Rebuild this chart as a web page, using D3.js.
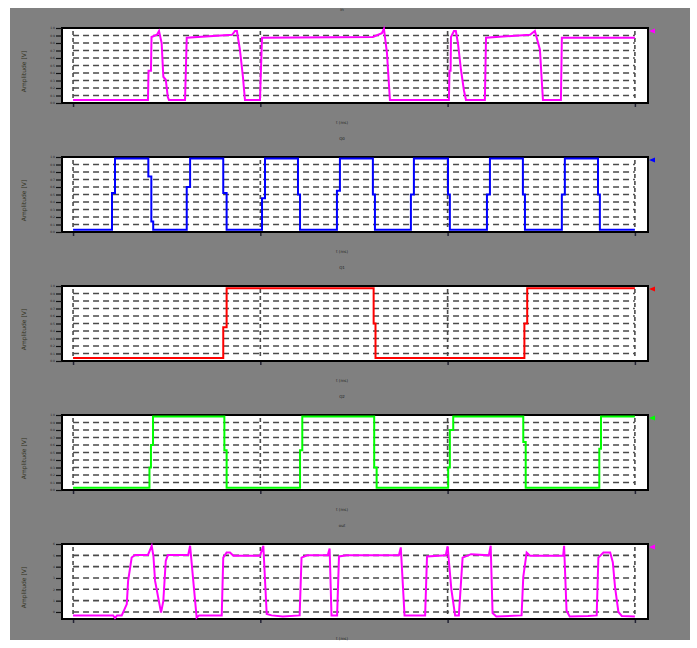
<!DOCTYPE html>
<html lang="en">
<head>
  <meta charset="UTF-8" />
  <title>Logic Traces</title>
  <script src="https://d3js.org/d3.v7.min.js"></script>
  <style>
    body {
      margin: 0;
      background: #fff;
    }
    svg {
      display: block;
    }
    .frame {
      fill: #fff;
      stroke: #000;
      stroke-width: 2;
    }
    .grid line {
      stroke: #4a4a4a;
      stroke-width: 1.6;
      stroke-dasharray: 6,4;
    }
    .trace {
      fill: none;
      stroke-width: 2;
    }
    .tiny {
      font-family: "DejaVu Sans", sans-serif;
      fill: #222;
    }
  </style>
</head>
<body>
<svg width="697" height="648"></svg>

<script>
// x: time (ms), y: level.
const timeTicks = [0, 1, 2, 3];
const levelTicks = [0, 0.1, 0.2, 0.3, 0.4, 0.5, 0.6, 0.7, 0.8, 0.9, 1];
const voltTicks = [0, 1, 2, 3, 4, 5, 6];

const titles = ["in", "Q0", "Q1", "Q2", "out"];
const xLabel = "t (ms)";
const yLabel = "Amplitude [V]";
const colors = ["#ff00ff", "#0000ff", "#ff0000", "#00ff00", "#ff00ff"];

const trace1 = [
  [0, 0.04], [0.40, 0.04], [0.403, 0.43], [0.416, 0.43], [0.419, 0.88], [0.448, 0.91],
  [0.459, 0.96], [0.473, 0.80], [0.482, 0.35], [0.495, 0.31], [0.506, 0.08], [0.512, 0.04],
  [0.598, 0.04], [0.607, 0.87], [0.849, 0.91], [0.865, 0.96], [0.875, 0.96], [0.891, 0.71],
  [0.907, 0.35], [0.918, 0.04], [0.998, 0.04], [1.009, 0.87], [1.601, 0.88], [1.649, 0.93],
  [1.66, 0.99], [1.676, 0.67], [1.692, 0.04], [2.007, 0.04], [2.01, 0.43], [2.016, 0.43],
  [2.018, 0.88], [2.034, 0.96], [2.044, 0.96], [2.055, 0.80], [2.071, 0.45], [2.087, 0.17],
  [2.098, 0.04], [2.199, 0.04], [2.205, 0.87], [2.44, 0.91], [2.466, 0.96], [2.493, 0.71],
  [2.509, 0.04], [2.605, 0.04], [2.61, 0.87], [3.0, 0.87]
];

const trace2 = [
  [0, 0.03], [0.208, 0.03], [0.208, 0.52], [0.224, 0.52], [0.224, 0.98],
  [0.402, 0.98], [0.402, 0.74], [0.418, 0.74], [0.418, 0.14], [0.428, 0.14], [0.428, 0.03],
  [0.607, 0.03], [0.607, 0.6], [0.625, 0.6], [0.625, 0.98],
  [0.802, 0.98], [0.802, 0.52], [0.82, 0.52], [0.82, 0.03],
  [1.009, 0.03], [1.009, 0.45], [1.025, 0.45], [1.025, 0.98],
  [1.201, 0.98], [1.201, 0.5], [1.212, 0.5], [1.212, 0.03],
  [1.409, 0.03], [1.409, 0.55], [1.425, 0.55], [1.425, 0.98],
  [1.601, 0.98], [1.601, 0.5], [1.612, 0.5], [1.612, 0.03],
  [1.804, 0.03], [1.804, 0.5], [1.82, 0.5], [1.82, 0.98],
  [2.002, 0.98], [2.002, 0.5], [2.012, 0.5], [2.012, 0.03],
  [2.21, 0.03], [2.21, 0.5], [2.226, 0.5], [2.226, 0.98],
  [2.402, 0.98], [2.402, 0.5], [2.413, 0.5], [2.413, 0.03],
  [2.61, 0.03], [2.61, 0.5], [2.626, 0.5], [2.626, 0.98],
  [2.803, 0.98], [2.803, 0.5], [2.813, 0.5], [2.813, 0.03],
  [3.0, 0.03]
];

const trace3 = [
  [0, 0.04], [0.802, 0.04], [0.802, 0.45], [0.82, 0.45], [0.82, 0.97],
  [1.605, 0.97], [1.605, 0.5], [1.615, 0.5], [1.615, 0.04],
  [2.41, 0.04], [2.41, 0.5], [2.425, 0.5], [2.425, 0.97], [3.0, 0.97]
];

const trace4 = [
  [0, 0.03], [0.408, 0.03], [0.408, 0.3], [0.416, 0.3], [0.416, 0.6], [0.427, 0.6], [0.427, 0.98],
  [0.808, 0.98], [0.808, 0.53], [0.82, 0.53], [0.82, 0.03],
  [1.212, 0.03], [1.212, 0.53], [1.224, 0.53], [1.224, 0.98],
  [1.608, 0.98], [1.608, 0.3], [1.621, 0.3], [1.621, 0.03],
  [2.003, 0.03], [2.003, 0.3], [2.012, 0.3], [2.012, 0.8], [2.03, 0.8], [2.03, 0.98],
  [2.404, 0.98], [2.404, 0.64], [2.417, 0.64], [2.417, 0.03],
  [2.81, 0.03], [2.81, 0.55], [2.819, 0.55], [2.819, 0.98], [3.0, 0.98]
];

const trace5 = [
  [0, -0.3], [0.214, -0.3], [0.224, -0.53], [0.235, -0.3], [0.26, -0.3], [0.287, 0.7],
  [0.294, 2.74], [0.313, 4.8], [0.331, 5.04], [0.40, 5.04], [0.42, 5.84], [0.429, 4.96],
  [0.438, 2.74], [0.455, 1.24], [0.47, -0.06], [0.482, 0.97], [0.495, 4.5], [0.506, 5.04],
  [0.615, 5.04], [0.625, 5.84], [0.642, 2.74], [0.66, -0.5], [0.673, -0.3], [0.794, -0.3],
  [0.802, 4.8], [0.82, 5.25], [0.838, 5.25], [0.856, 4.96], [0.998, 4.96], [1.016, 5.84],
  [1.034, -0.18], [1.06, -0.3], [1.12, -0.4], [1.21, -0.3], [1.22, 4.8], [1.25, 5.0],
  [1.36, 5.0], [1.37, 5.6], [1.38, -0.3], [1.41, -0.3], [1.42, 4.9], [1.46, 5.0],
  [1.74, 5.0], [1.75, 5.7], [1.77, -0.3], [1.88, -0.3], [1.89, 4.9], [1.99, 5.0],
  [2.0, 5.8], [2.02, 2.0], [2.04, -0.3], [2.06, -0.3], [2.08, 4.8], [2.11, 5.0],
  [2.125, 5.1], [2.22, 5.0], [2.23, 5.84], [2.24, -0.1], [2.26, -0.4], [2.395, -0.3],
  [2.404, 3.1], [2.422, 5.25], [2.44, 4.96], [2.617, 4.96], [2.622, 5.84], [2.635, 0.1],
  [2.652, -0.4], [2.75, -0.35], [2.796, -0.3], [2.805, 4.8], [2.832, 5.25], [2.868, 5.25],
  [2.882, 4.4], [2.894, 2.2], [2.912, 0.0], [2.93, -0.35], [3.0, -0.4]
];

const traces = [trace1, trace2, trace3, trace4, trace5];

const svg = d3.select("svg");
const panelTops = [28, 157, 286, 415, 544];
const panelH = 75;
const left = 62, right = 648;

svg.append("rect")
  .attr("x", 10).attr("y", 8)
  .attr("width", 680).attr("height", 632)
  .attr("fill", "#808080");

const x = d3.scaleLinear().domain([-0.059, 3.07]).range([left, right]);

traces.forEach((data, i) => {
  const top = panelTops[i];
  const bottom = top + panelH;
  const isVolt = i === 4;
  const ticks = isVolt ? voltTicks : levelTicks;
  const y = d3.scaleLinear()
    .domain(isVolt ? [-0.62, 6] : [0, 1])
    .range([bottom, top]);

  const g = svg.append("g");

  g.append("rect")
    .attr("class", "frame")
    .attr("x", left).attr("y", top)
    .attr("width", right - left).attr("height", panelH);

  const grid = g.append("g").attr("class", "grid");
  grid.selectAll("line.h")
    .data(ticks.filter(t => y(t) > top + 2 && y(t) < bottom - 2))
    .enter().append("line")
    .attr("x1", x(0)).attr("x2", x(3))
    .attr("y1", d => y(d)).attr("y2", d => y(d));
  grid.selectAll("line.v")
    .data(timeTicks)
    .enter().append("line")
    .attr("x1", d => x(d)).attr("x2", d => x(d))
    .attr("y1", top + 3).attr("y2", bottom - 2)
    .style("stroke-dasharray", "4,3");

  // left axis: ticks + tiny labels
  const yAxis = d3.axisLeft(y).tickValues(ticks).tickSize(6).tickPadding(1)
    .tickFormat(isVolt ? d3.format("d") : d3.format(".1f"));
  g.append("g")
    .attr("transform", `translate(${left},0)`)
    .call(yAxis)
    .call(a => a.select(".domain").remove())
    .call(a => a.selectAll("line").attr("stroke", "#111").attr("stroke-width", 1.2))
    .call(a => a.selectAll("text").attr("class", "tiny").style("font-size", "3px"));

  // bottom axis: small tick marks
  const xAxis = d3.axisBottom(x).tickValues(timeTicks).tickSize(3).tickFormat("");
  g.append("g")
    .attr("transform", `translate(0,${bottom + 1})`)
    .call(xAxis)
    .call(a => a.select(".domain").remove())
    .call(a => a.selectAll("line").attr("stroke", "#223").attr("stroke-width", 1.5));

  const line = d3.line().x(d => x(d[0])).y(d => y(d[1]));
  g.append("path")
    .datum(data)
    .attr("class", "trace")
    .attr("stroke", colors[i])
    .attr("d", line);

  // channel marker on the right edge
  g.append("path")
    .attr("d", `M${right + 1},${top + 3} l6,-2.5 l0,5 z`)
    .attr("fill", colors[i]);

  g.append("text")
    .attr("class", "tiny")
    .attr("x", 342).attr("y", top - 17)
    .attr("text-anchor", "middle")
    .style("font-size", "4px")
    .text(titles[i]);

  g.append("text")
    .attr("class", "tiny")
    .attr("x", 342).attr("y", bottom + 21)
    .attr("text-anchor", "middle")
    .style("font-size", "4px")
    .text(xLabel);

  g.append("text")
    .attr("class", "tiny")
    .attr("transform", `translate(26,${top + panelH / 2 + 6}) rotate(-90)`)
    .attr("text-anchor", "middle")
    .style("font-size", "6px")
    .style("fill", "#332")
    .text(yLabel);
});
</script>
</body>
</html>
